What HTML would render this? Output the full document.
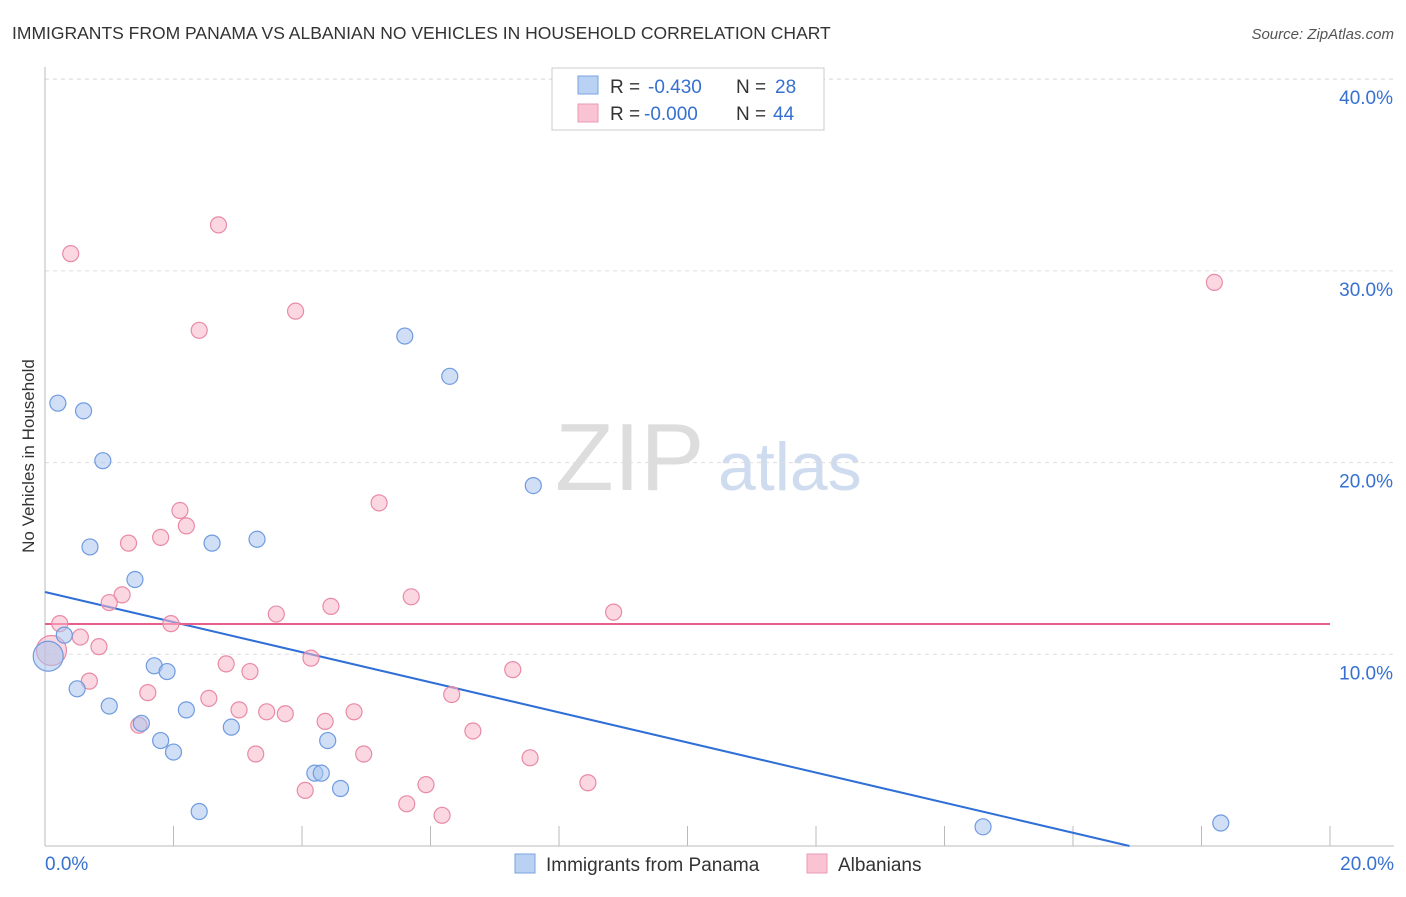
<!DOCTYPE html>
<html><head><meta charset="utf-8"><style>
body{margin:0;background:#fff;font-family:"Liberation Sans",sans-serif;}
svg text{font-family:"Liberation Sans",sans-serif;}
</style></head><body>
<svg id="chart" width="1406" height="892">
<text x="12" y="39" font-size="17.5" fill="#333">IMMIGRANTS FROM PANAMA VS ALBANIAN NO VEHICLES IN HOUSEHOLD CORRELATION CHART</text>
<text x="1394" y="39" font-size="15" fill="#555" text-anchor="end" font-style="italic">Source: ZipAtlas.com</text>
<text x="34" y="456" font-size="17" fill="#333" text-anchor="middle" transform="rotate(-90 34 456)">No Vehicles in Household</text>
<g><text x="555" y="490" font-size="96" fill="#ddd" font-family="Liberation Serif">ZIP</text><text x="718" y="490" font-size="68" fill="#cfdcef">atlas</text></g>
<g id="grid"></g><g id="axes"></g><g id="lines"></g><g id="pts"></g>
<g>
<rect x="552" y="68" width="272" height="62" fill="#fff" stroke="#ccc"/>
<rect x="578" y="76" width="20" height="18" fill="#b9d1f2" stroke="#7aa3e0"/>
<rect x="578" y="104" width="20" height="18" fill="#f9c3d3" stroke="#eb9ab3"/>
<text x="610" y="93" font-size="19" fill="#333">R =</text>
<text x="648" y="93" font-size="19" fill="#3670d0">-0.430</text>
<text x="736" y="93" font-size="19" fill="#333">N =</text>
<text x="775" y="93" font-size="19" fill="#3670d0">28</text>
<text x="610" y="120" font-size="19" fill="#333">R =</text>
<text x="644" y="120" font-size="19" fill="#3670d0">-0.000</text>
<text x="736" y="120" font-size="19" fill="#333">N =</text>
<text x="773" y="120" font-size="19" fill="#3670d0">44</text>
</g>
<g>
<rect x="515" y="854" width="20" height="19" fill="#b9d1f2" stroke="#7aa3e0"/>
<text x="546" y="871" font-size="19" fill="#333">Immigrants from Panama</text>
<rect x="807" y="854" width="20" height="19" fill="#f9c3d3" stroke="#eb9ab3"/>
<text x="838" y="871" font-size="19" fill="#333">Albanians</text>
</g>
</svg>
<script>
const yTicks=[10,20,30,40];
const yTickLabels=["10.0%","20.0%","30.0%","40.0%"];
const xTickLabels=["0.0%","20.0%"];
const blueX=[5.6,6.3,0.2,0.6,0.9,0.7,2.6,3.3,1.4,0.3,0.05,1.7,1.9,0.5,1.0,2.2,1.5,2.9,1.8,2.0,4.4,4.2,4.3,4.6,2.4,7.6,14.6,18.3];
const blueY=[26.6,24.5,23.1,22.7,20.1,15.6,15.8,16.0,13.9,11.0,9.9,9.4,9.1,8.2,7.3,7.1,6.4,6.2,5.5,4.9,5.5,3.8,3.8,3.0,1.8,18.8,1.0,1.2];
const pinkX=[0.4,2.7,2.4,3.9,18.2,5.2,2.1,2.2,1.8,1.3,1.2,1.0,5.7,4.45,3.6,8.85,1.96,0.23,0.55,0.84,0.1,4.14,2.82,3.19,7.28,0.69,1.6,2.55,6.33,3.02,3.45,3.74,4.81,4.36,1.46,6.66,3.28,4.96,7.55,5.93,8.45,4.05,5.63,6.18];
const pinkY=[30.9,32.4,26.9,27.9,29.4,17.9,17.5,16.7,16.1,15.8,13.1,12.7,13.0,12.5,12.1,12.2,11.6,11.6,10.9,10.4,10.2,9.8,9.5,9.1,9.2,8.6,8.0,7.7,7.9,7.1,7.0,6.9,7.0,6.5,6.3,6.0,4.8,4.8,4.6,3.2,3.3,2.9,2.2,1.6];
const blueBig=[10];const pinkBig=[20];
const blueFit=[13.25,-0.785];
const pinkFit=[11.58,0];
const X=v=>45+v/20*1285, Y=v=>846-v*19.17;
const NS="http://www.w3.org/2000/svg";
function mk(t,a,p){const e=document.createElementNS(NS,t);for(const k in a)e.setAttribute(k,a[k]);document.getElementById(p).appendChild(e);return e;}
yTicks.forEach((t,i)=>{
 const l=mk('line',{x1:45,x2:1394,y1:Y(t),y2:Y(t),stroke:'#ddd','stroke-dasharray':'4,4'},'grid');
 
 
 const tx=mk('text',{x:1393,y:Y(t)+25,'font-size':19,fill:'#3670d0','text-anchor':'end'},'axes');tx.textContent=yTickLabels[i];
 
 
});
const topGrid=mk('line',{x1:45,x2:1394,y1:79,y2:79,stroke:'#ddd','stroke-dasharray':'4,4'},'grid');


const ya=mk('line',{x1:45,x2:45,y1:67,y2:846,stroke:'#bbb'},'axes');


const xa=mk('line',{x1:45,x2:1394,y1:846,y2:846,stroke:'#bbb'},'axes');


for(let i=1;i<=10;i++){const t=mk('line',{x1:X(i*2),x2:X(i*2),y1:826,y2:846,stroke:'#bbb'},'axes');
 
 }
[[0,'start',45],[20,'end',1394]].forEach((d,i)=>{const t=mk('text',{x:d[2],y:870,'font-size':19,fill:'#3670d0','text-anchor':d[1]},'axes');t.textContent=xTickLabels[i];
 
 });
function pts(xs,ys,big,fill,stroke,name){xs.forEach((x,i)=>{const c=mk('circle',{cx:X(x),cy:Y(ys[i]),r:big.includes(i)?15:8,fill:fill,'fill-opacity':0.55,stroke:stroke,'stroke-width':1.2},'pts');
 
 });}
pts(pinkX,pinkY,pinkBig,'#f7b6c8','#e98aa6','albanian-point');
pts(blueX,blueY,blueBig,'#a9c5ee','#6f9be0','panama-point');
const xEnd=-blueFit[0]/blueFit[1];
const bl=mk('line',{x1:X(0),y1:Y(blueFit[0]),x2:X(xEnd),y2:Y(0),stroke:'#2f6fd6','stroke-width':2},'lines');


const pl=mk('line',{x1:X(0),y1:Y(pinkFit[0]),x2:X(20),y2:Y(pinkFit[0]+pinkFit[1]*20),stroke:'#e8608a','stroke-width':2},'lines');


</script>
</body></html>
